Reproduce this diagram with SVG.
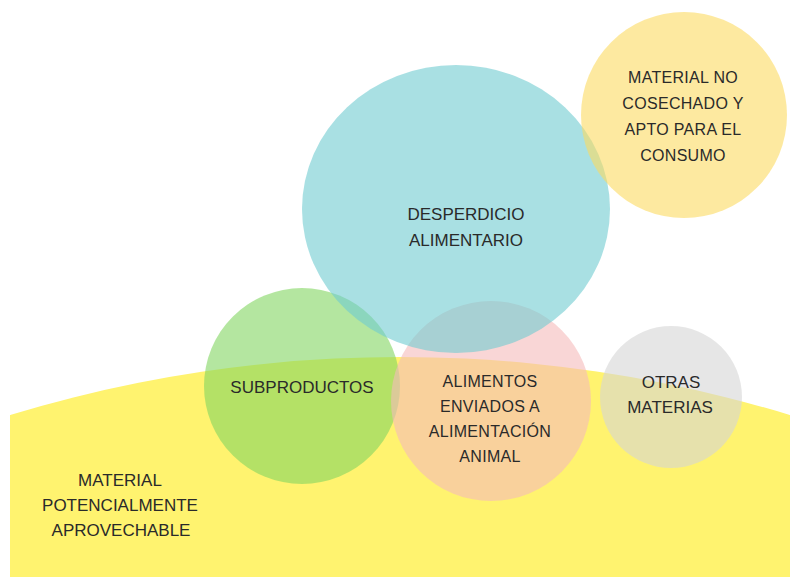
<svg xmlns="http://www.w3.org/2000/svg" width="790" height="578" viewBox="0 0 790 578">
  <style>
    .lbl { font-family: "Liberation Sans", Arial, sans-serif; font-size: 17px; fill: #2a2a2a; text-anchor: middle; }
    .sm { font-size: 16px; letter-spacing: 0.3px; }
    .c { fill-opacity: 0.6; }
  </style>
  <defs>
    <clipPath id="bgclip">
      <rect x="10" y="0" width="780" height="577"/>
    </clipPath>
  </defs>
  <rect x="0" y="0" width="790" height="578" fill="#ffffff"/>
  <g id="material-potencialmente-aprovechable">
    <circle cx="400" cy="1697" r="1340" fill="#FFF36F" clip-path="url(#bgclip)"/>
    <text class="lbl" x="120" y="486">MATERIAL</text>
    <text class="lbl" x="120" y="511">POTENCIALMENTE</text>
    <text class="lbl" x="121" y="536">APROVECHABLE</text>
  </g>
  <g id="subproductos">
    <circle class="c" cx="302" cy="386" r="98" fill="#82D561"/>
  </g>
  <g id="alimentos-animal">
    <circle class="c" cx="491" cy="401" r="100" fill="#F5BBBB"/>
  </g>
  <g id="otras-materias">
    <circle class="c" cx="671" cy="397" r="71" fill="#D5D5D5"/>
  </g>
  <g id="desperdicio-alimentario">
    <ellipse class="c" cx="456" cy="209" rx="154" ry="144" fill="#70CBD0"/>
  </g>
  <g id="material-no-cosechado">
    <circle class="c" cx="684" cy="115" r="103" fill="#FCDA61"/>
  </g>
  <g id="labels">
    <text class="lbl" x="302" y="393">SUBPRODUCTOS</text>
    <text class="lbl sm" x="490" y="387">ALIMENTOS</text>
    <text class="lbl sm" x="490" y="412">ENVIADOS A</text>
    <text class="lbl sm" x="490" y="437">ALIMENTACIÓN</text>
    <text class="lbl sm" x="490" y="462">ANIMAL</text>
    <text class="lbl" x="671" y="388">OTRAS</text>
    <text class="lbl" x="670" y="413">MATERIAS</text>
    <text class="lbl" x="466" y="220">DESPERDICIO</text>
    <text class="lbl" x="466" y="246">ALIMENTARIO</text>
    <text class="lbl sm" x="683" y="83">MATERIAL NO</text>
    <text class="lbl sm" x="683" y="109">COSECHADO Y</text>
    <text class="lbl sm" x="683" y="135">APTO PARA EL</text>
    <text class="lbl sm" x="683" y="161">CONSUMO</text>
  </g>
  <g id="connectors"/>
</svg>
